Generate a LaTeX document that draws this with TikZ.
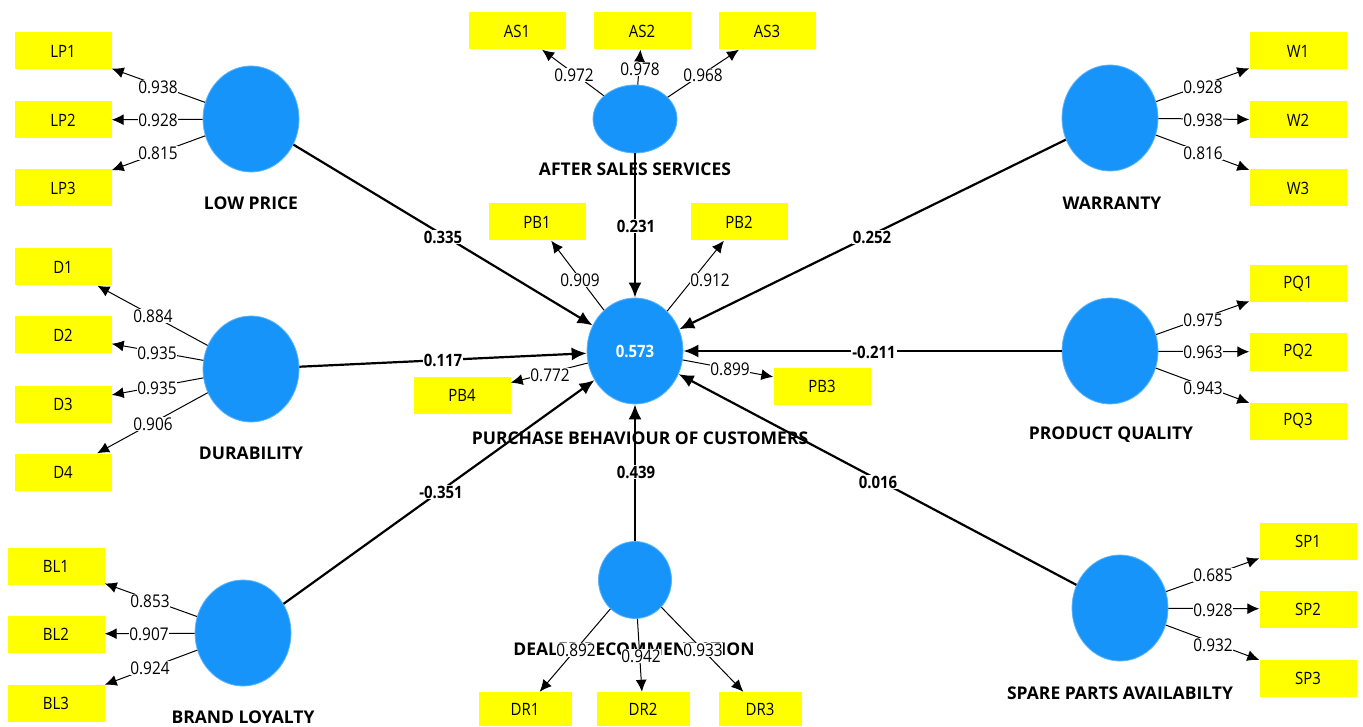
\documentclass[tikz,border=0pt]{standalone}
\usepackage{fontspec}
\setmainfont{Open Sans}
\newfontfamily\numfont{Open Sans}[FakeStretch=0.88]
\usetikzlibrary{shapes.geometric,arrows.meta}
\definecolor{lvblue}{RGB}{22,148,250}
\definecolor{mvyellow}{RGB}{255,255,0}
\begin{document}
\begin{tikzpicture}[x=1pt,y=-1pt,
 lv/.style={ellipse,fill=lvblue,draw=lvblue!70!white,line width=0.8pt,minimum width=96pt,minimum height=106pt,inner sep=0pt},
 mv/.style={rectangle,fill=mvyellow,minimum width=97pt,minimum height=37pt,inner sep=0pt,font=\numfont\fontsize{17}{20}\selectfont},
 lvname/.style={inner sep=0pt,font=\bfseries\fontsize{17.5}{20}\selectfont},
 pathedge/.style={line width=2.2pt,-{Latex[length=15pt,width=13pt]}},
 loadedge/.style={line width=1pt,-{Latex[length=12pt,width=11pt]}},
 coef/.style={fill=white,inner sep=1pt,font=\numfont\bfseries\fontsize{17}{20}\selectfont},
 ldg/.style={fill=white,inner sep=0.5pt,font=\numfont\fontsize{17.5}{20}\selectfont}]
\fill[white] (0,0) rectangle (1363,727);
\useasboundingbox (0,0) rectangle (1363,727);

% constructs
\node[lv] (lp) at (251,119) {};
\node[lv] (du) at (251,369) {};
\node[lv] (bl) at (243,633) {};
\node[lv,minimum width=84pt,minimum height=68pt] (as) at (635,119) {};
\node[lv,font=\numfont\bfseries\fontsize{17}{20}\selectfont,text=white] (pb) at (635,351) {0.573};
\node[lv] (wa) at (1110,118) {};
\node[lv] (pq) at (1110,351) {};
\node[lv] (sp) at (1120,608) {};
\node[lv,minimum width=73pt,minimum height=77pt] (dr) at (635,580) {};

% construct names
\node[lvname] (nlp) at (251,203) {LOW PRICE};
\node[lvname] (ndu) at (251,453) {DURABILITY};
\node[lvname] (nbl) at (243,717) {BRAND LOYALTY};
\node[lvname] (nas) at (635,169) {AFTER SALES SERVICES};
\node[lvname] (npb) at (640,438) {PURCHASE BEHAVIOUR OF CUSTOMERS};
\node[lvname] (nwa) at (1112,203) {WARRANTY};
\node[lvname] (npq) at (1111,435) {PRODUCT QUALITY};
\node[lvname] (nsp) at (1120,693) {SPARE PARTS AVAILABILTY};
\node[lvname] (ndr) at (634,649) {DEALER RECOMMENDATION};

% indicators
\node[mv] (lp1) at (63,51) {LP1};
\node[mv] (lp2) at (63,120) {LP2};
\node[mv] (lp3) at (63,188) {LP3};
\node[mv] (d1) at (63,267) {D1};
\node[mv] (d2) at (63,335) {D2};
\node[mv] (d3) at (63,404) {D3};
\node[mv] (d4) at (63,472) {D4};
\node[mv] (bl1) at (56,566) {BL1};
\node[mv] (bl2) at (56,634) {BL2};
\node[mv] (bl3) at (56,703) {BL3};
\node[mv] (as1) at (517,31) {AS1};
\node[mv] (as2) at (642,31) {AS2};
\node[mv] (as3) at (767,31) {AS3};
\node[mv] (pb1) at (537,222) {PB1};
\node[mv] (pb2) at (739,222) {PB2};
\node[mv] (pb4) at (462,395) {PB4};
\node[mv] (pb3) at (822,386) {PB3};
\node[mv] (w1) at (1298,51) {W1};
\node[mv] (w2) at (1298,120) {W2};
\node[mv] (w3) at (1298,188) {W3};
\node[mv] (pq1) at (1298,284) {PQ1};
\node[mv] (pq2) at (1298,352) {PQ2};
\node[mv] (pq3) at (1298,421) {PQ3};
\node[mv] (sp1) at (1308,541) {SP1};
\node[mv] (sp2) at (1308,609) {SP2};
\node[mv] (sp3) at (1308,678) {SP3};
\node[mv,minimum width=93pt,minimum height=34pt] (dr1) at (525,709) {DR1};
\node[mv,minimum width=93pt,minimum height=34pt] (dr2) at (643,709) {DR2};
\node[mv,minimum width=83pt,minimum height=34pt] (dr3) at (760,709) {DR3};

% loading edges
\foreach \a/\b in {lp/lp1,lp/lp2,lp/lp3,du/d1,du/d2,du/d3,du/d4,bl/bl1,bl/bl2,bl/bl3,
  as/as1,as/as2,as/as3,pb/pb1,pb/pb2,pb/pb3,pb/pb4,wa/w1,wa/w2,wa/w3,pq/pq1,pq/pq2,pq/pq3,
  sp/sp1,sp/sp2,sp/sp3,dr/dr1,dr/dr2,dr/dr3}
  \draw[loadedge] (\a) -- (\b);

% path edges
\foreach \a in {lp,du,bl,as,wa,pq,sp,dr}
  \draw[pathedge] (\a) -- (pb);

% loading labels
\node[ldg] (l1) at (158,87) {0.938};
\node[ldg] (l2) at (158,120) {0.928};
\node[ldg] (l3) at (158,153) {0.815};
\node[ldg] (l4) at (153,316) {0.884};
\node[ldg] (l5) at (157,353) {0.935};
\node[ldg] (l6) at (157,388) {0.935};
\node[ldg] (l7) at (153,424) {0.906};
\node[ldg] (l8) at (150,601) {0.853};
\node[ldg] (l9) at (149,634) {0.907};
\node[ldg] (l10) at (150,668) {0.924};
\node[ldg] (l11) at (574,75) {0.972};
\node[ldg] (l12) at (640,69) {0.978};
\node[ldg] (l13) at (703,75) {0.968};
\node[ldg] (l14) at (580,280) {0.909};
\node[ldg] (l15) at (710,280) {0.912};
\node[ldg] (l16) at (550,375) {0.772};
\node[ldg] (l17) at (730,369) {0.899};
\node[ldg] (l18) at (1203,87) {0.928};
\node[ldg] (l19) at (1203,120) {0.938};
\node[ldg] (l20) at (1203,153) {0.816};
\node[ldg] (l21) at (1203,320) {0.975};
\node[ldg] (l22) at (1203,352) {0.963};
\node[ldg] (l23) at (1203,388) {0.943};
\node[ldg] (l24) at (1213,575) {0.685};
\node[ldg] (l25) at (1213,610) {0.928};
\node[ldg] (l26) at (1213,645) {0.932};
\node[ldg] (l27) at (576,650) {0.892};
\node[ldg] (l28) at (641,656) {0.942};
\node[ldg] (l29) at (703,650) {0.933};

% path coefficients
\node[coef] (c1) at (443,237) {0.335};
\node[coef] (c2) at (636,226) {0.231};
\node[coef] (c3) at (872,237) {0.252};
\node[coef] (c4) at (443,360) {0.117};
\node[coef] (c5) at (874,352) {-0.211};
\node[coef] (c6) at (441,492) {-0.351};
\node[coef] (c7) at (636,472) {0.439};
\node[coef] (c8) at (878,482) {0.016};
\end{tikzpicture}
\end{document}
